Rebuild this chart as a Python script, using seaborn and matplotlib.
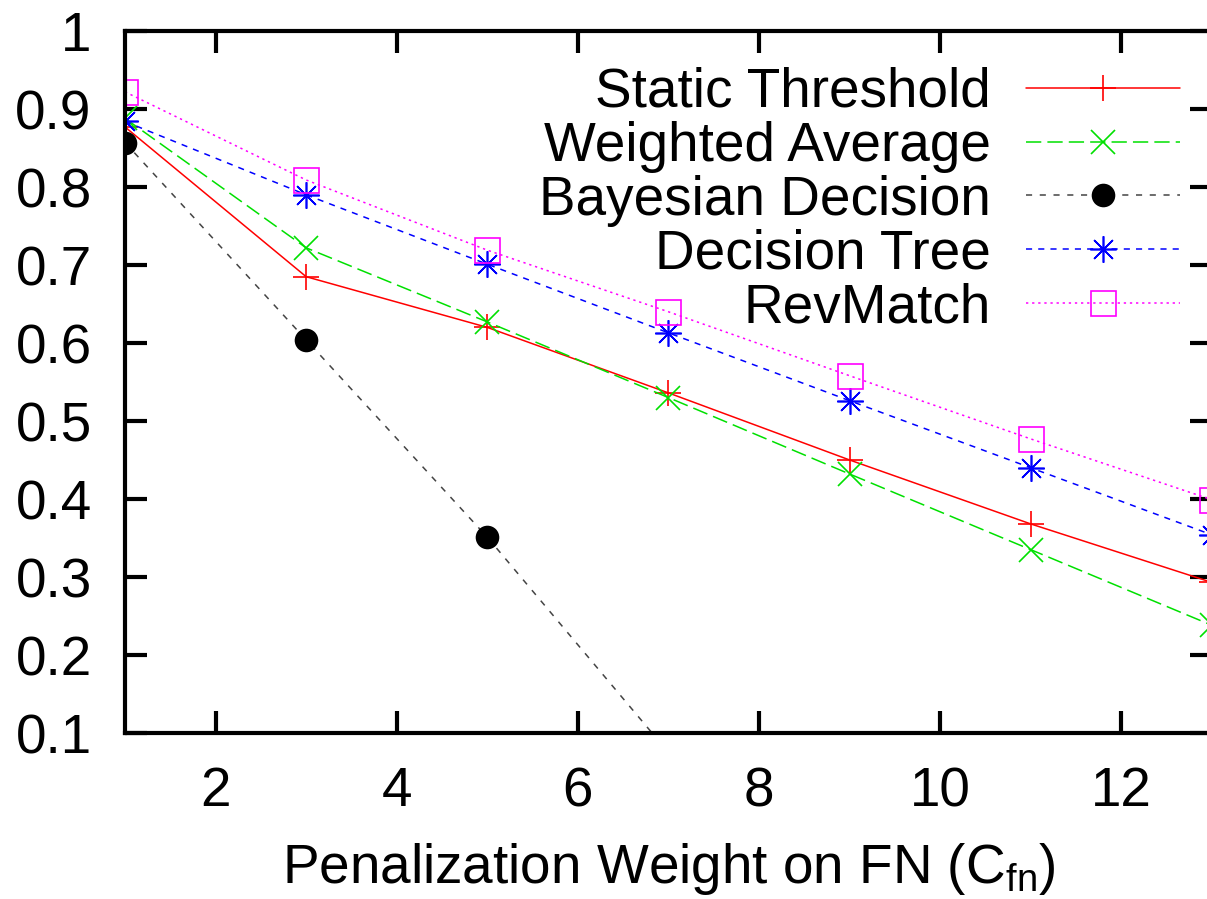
import matplotlib
matplotlib.use("Agg")
import matplotlib.pyplot as plt
import seaborn as sns
import pandas as pd

# values
cfn = [1, 3, 5, 7, 9, 11, 13]
static_threshold = [0.877, 0.685, 0.620, 0.536, 0.450, 0.368, 0.293]
weighted_average = [0.888, 0.722, 0.627, 0.530, 0.432, 0.335, 0.238]
bayesian_x = [1, 3, 5, 7]
bayesian_decision = [0.857, 0.604, 0.351, 0.075]
decision_tree = [0.884, 0.790, 0.701, 0.613, 0.526, 0.440, 0.354]
revmatch = [0.922, 0.809, 0.719, 0.640, 0.558, 0.477, 0.399]

sns.set_theme(style="ticks")
plt.rcParams["font.family"] = ["Liberation Sans", "DejaVu Sans"]
plt.rcParams["mathtext.fontset"] = "custom"
plt.rcParams["mathtext.rm"] = "Liberation Sans"
plt.rcParams["mathtext.it"] = "Liberation Sans"
plt.rcParams["text.color"] = "black"
plt.rcParams["axes.labelcolor"] = "black"

fs = 39.5
fig = plt.figure(figsize=(12.07, 8.99), dpi=100)
ax = fig.add_axes([125 / 1207, 166 / 899, 1087 / 1207, 702 / 899])

series = [
    ("Static Threshold", cfn, static_threshold,
     dict(color="#ff0000", marker="+", ms=19, mew=1.2, mec="#ff0000", linestyle="-")),
    ("Weighted Average", cfn, weighted_average,
     dict(color="#00e000", marker="x", ms=17, mew=1.2, mec="#00e000", linestyle=(0, (10, 4)))),
    ("Bayesian Decision", bayesian_x, bayesian_decision,
     dict(color="#444444", marker="o", ms=17, mfc="black", mec="black", mew=0,
          linestyle=(0, (4, 5)))),
    ("Decision Tree", cfn, decision_tree,
     dict(color="#0000ff", marker=(8, 2, 0), ms=19, mew=1.2, mec="#0000ff",
          linestyle=(0, (4, 4)))),
    ("RevMatch", cfn, revmatch,
     dict(color="#ff00ff", marker="s", ms=18, mfc="none", mec="#ff00ff", mew=1.2,
          linestyle=(0, (1.5, 2.5)))),
]

for name, xs, ys, style in series:
    df = pd.DataFrame({"x": xs, "y": ys})
    sns.lineplot(data=df, x="x", y="y", ax=ax, label=name, lw=1.1,
                 sort=False, **style)

ax.set_xlim(1, 13)
ax.set_ylim(0.1, 1.0)
ax.set_xticks([2, 4, 6, 8, 10, 12])
ax.set_yticks([0.1, 0.2, 0.3, 0.4, 0.5, 0.6, 0.7, 0.8, 0.9, 1.0])
ax.set_yticklabels(["0.1", "0.2", "0.3", "0.4", "0.5", "0.6", "0.7", "0.8", "0.9", "1"])
ax.tick_params(axis="both", which="major", direction="in", length=16, width=3,
               labelsize=fs, top=True, right=True, color="black", labelcolor="black")
ax.tick_params(axis="y", pad=24)
ax.tick_params(axis="x", pad=24)
for sp in ax.spines.values():
    sp.set_linewidth(3)
    sp.set_color("black")
    sp.set_visible(True)

ax.set_xlabel("Penalization Weight on FN (C$_{\\mathregular{fn}}$)", fontsize=fs, labelpad=16)
ax.set_ylabel("")

handles, labels = ax.get_legend_handles_labels()
ax.legend(handles, labels, loc="upper right", bbox_to_anchor=(0.9705, 0.949),
          frameon=False, markerfirst=False, fontsize=fs, handlelength=2.8,
          handletextpad=0.65, labelspacing=0.035, borderpad=0, borderaxespad=0)

fig.savefig("out.png", dpi=100)
